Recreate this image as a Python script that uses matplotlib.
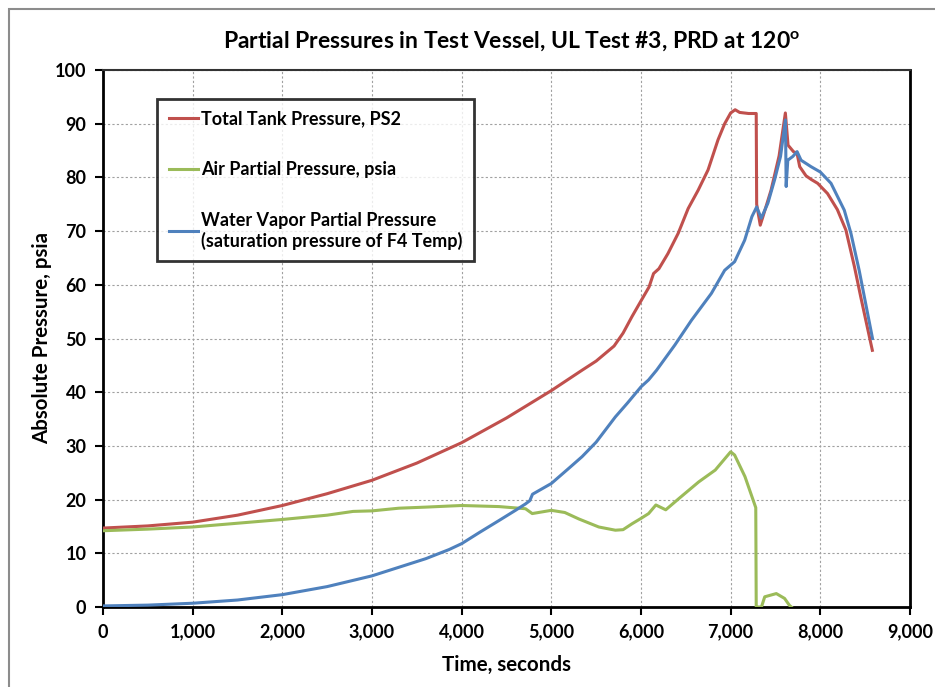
import matplotlib
matplotlib.use("Agg")
import matplotlib.pyplot as plt
from matplotlib.ticker import FuncFormatter, MultipleLocator
from matplotlib.patches import Rectangle

plt.rcParams['font.family'] = ['Lato', 'DejaVu Sans']
plt.rcParams['font.weight'] = 'bold'
plt.rcParams['mathtext.fontset'] = 'custom'
plt.rcParams['mathtext.rm'] = 'Lato:bold'
plt.rcParams['mathtext.bf'] = 'Lato:bold'

# ---- data ----
total_t = [0, 500, 1000, 1500, 2000, 2500, 3000, 3500, 4000, 4500, 5000, 5343, 5500, 5700, 5800,
           5900, 6000, 6090, 6140, 6200, 6300, 6415, 6526, 6637, 6748, 6859, 6933, 7000, 7050,
           7100, 7200, 7285, 7290, 7330, 7360, 7450, 7540, 7610, 7640, 7700, 7740, 7770, 7840,
           7900, 7970, 8080, 8190, 8285, 8380, 8450, 8580]
total_p = [14.7, 15.1, 15.8, 17.1, 18.9, 21.1, 23.6, 26.8, 30.6, 35.2, 40.3, 44.1, 45.8, 48.6, 51.0,
           54.1, 57.0, 59.6, 62.1, 63.0, 65.8, 69.6, 74.2, 77.6, 81.4, 87.0, 90.0, 92.0, 92.6,
           92.1, 91.9, 91.9, 75.0, 71.1, 72.7, 77.6, 84.0, 92.0, 86.0, 84.8, 84.5, 82.0, 80.3,
           79.6, 78.9, 77.0, 74.0, 70.2, 63.4, 57.8, 47.8]

air_t = [0, 500, 1000, 1500, 2000, 2500, 2789, 3000, 3300, 3600, 3860, 4000, 4416, 4712, 4787,
         5000, 5150, 5306, 5529, 5714, 5800, 5900, 6000, 6085, 6166, 6276, 6423, 6644, 6828,
         7000, 7044, 7159, 7280, 7285, 7343, 7380, 7509, 7601, 7656, 7711, 7750, 8000, 8300, 8580]
air_p = [14.2, 14.5, 14.9, 15.6, 16.3, 17.1, 17.8, 17.9, 18.4, 18.6, 18.8, 18.9, 18.7, 18.3, 17.4,
         18.0, 17.6, 16.4, 14.9, 14.3, 14.4, 15.5, 16.5, 17.4, 19.0, 18.1, 20.2, 23.3, 25.5,
         28.9, 28.3, 24.3, 18.5, 0.0, 0.0, 1.9, 2.5, 1.6, 0.3, -0.5, -1.5, -2.5, -3.5, -2.5]

vapor_t = [0, 500, 1000, 1500, 2000, 2500, 3000, 3300, 3600, 3860, 4000, 4200, 4416, 4600, 4712,
           4760, 4790, 5000, 5200, 5343, 5500, 5714, 5850, 6000, 6085, 6174, 6378, 6563, 6785,
           6933, 7044, 7156, 7237, 7290, 7341, 7415, 7489, 7556, 7611, 7619, 7637, 7693, 7741,
           7785, 7896, 8000, 8119, 8267, 8341, 8433, 8582]
vapor_p = [0.2, 0.35, 0.7, 1.3, 2.3, 3.8, 5.8, 7.4, 9.0, 10.7, 11.8, 13.9, 16.1, 18.0, 19.2,
           19.8, 21.0, 23.0, 25.9, 28.0, 30.7, 35.4, 38.0, 41.0, 42.3, 44.1, 48.8, 53.4, 58.4,
           62.7, 64.3, 68.3, 72.7, 74.5, 72.4, 75.2, 79.5, 83.9, 90.7, 78.3, 83.2, 83.9, 84.8,
           83.2, 82.0, 81.0, 78.9, 73.9, 69.6, 62.7, 50.0]

labels = ["Total Tank Pressure, PS2",
          "Air Partial Pressure, psia",
          "Water Vapor Partial Pressure\n(saturation pressure of F4 Temp)"]
colors = ["#C0504D", "#9BBB59", "#4F81BD"]

# ---- figure ----
fig = plt.figure(figsize=(9.35, 6.87), dpi=100)
fig.patches.append(Rectangle((9/935, -0.05), 1.2, 1 - 9/687 + 0.05, transform=fig.transFigure,
                             fill=False, edgecolor="#8c8c8c", linewidth=1.5))
ax = fig.add_axes([103/935, 1 - 607/687, (910 - 103)/935, (607 - 70)/687])

ax.plot(total_t, total_p, color=colors[0], lw=2.2, label=labels[0], zorder=3)
ax.plot(air_t, air_p, color=colors[1], lw=2.2, label=labels[1], zorder=3)
ax.plot(vapor_t, vapor_p, color=colors[2], lw=2.2, label=labels[2], zorder=4)

ax.set_xlim(0, 9000)
ax.set_ylim(0, 100)
ax.xaxis.set_major_locator(MultipleLocator(1000))
ax.yaxis.set_major_locator(MultipleLocator(10))
ax.xaxis.set_major_formatter(FuncFormatter(lambda v, p: f"{int(v):,}"))
ax.grid(True, color="#a0a0a0", linestyle=(0, (2, 2)), linewidth=0.8)
ax.set_axisbelow(True)
ax.tick_params(direction='out', length=6, width=1.5, labelsize=13, pad=6)
for s in ['left', 'bottom', 'right']:
    ax.spines[s].set_linewidth(2)
    ax.spines[s].set_color('black')
ax.spines['top'].set_linewidth(1.5)
ax.spines['top'].set_color('#333333')

ax.set_xlabel("Time, seconds", fontsize=14.8, fontweight='bold', labelpad=10)
ax.set_ylabel("Absolute Pressure, psia", fontsize=14.8, fontweight='bold', labelpad=2)
fig.text(512/935, 1 - 42/687, r"Partial Pressures in Test Vessel, UL Test #3, PRD at 120$^{\mathrm{o}}$",
         ha='center', va='center', fontsize=16.5, fontweight='bold')

leg = ax.legend(loc='upper left', bbox_to_anchor=((157 - 103)/807, 1 - (99 - 70)/537),
                fontsize=13, handlelength=1.6, handletextpad=0.2, labelspacing=1.85,
                frameon=True, fancybox=False, borderpad=0.65, borderaxespad=0)
leg.get_frame().set_edgecolor('black')
leg.get_frame().set_linewidth(2)
for t in leg.get_texts():
    t.set_fontweight('bold')

fig.savefig("out.png", dpi=100)
